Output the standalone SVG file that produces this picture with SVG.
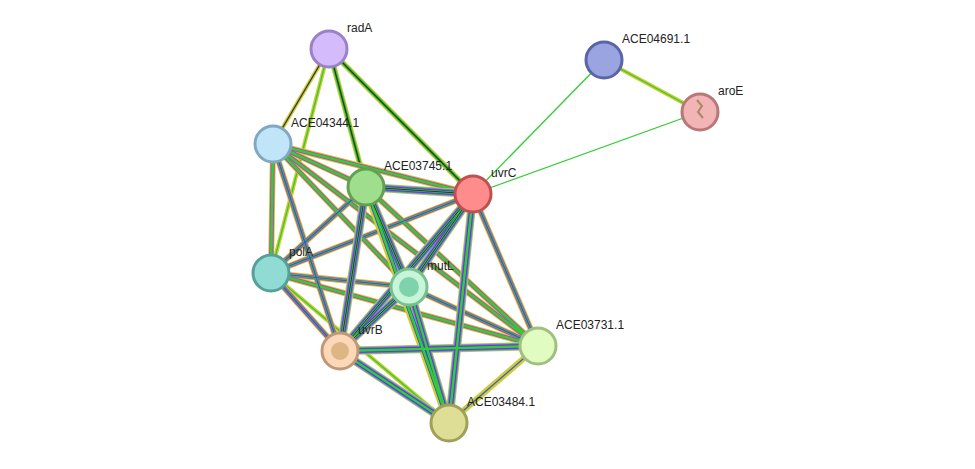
<svg xmlns="http://www.w3.org/2000/svg" width="975" height="469" viewBox="0 0 975 469">
<style>
text{font-family:"Liberation Sans",Arial,sans-serif;font-size:12px;fill:#222}
.n{stroke-width:3}
line{fill:none}
</style>
<defs>
<g id="dummy"/>
</defs>
<rect width="975" height="469" fill="#fff"/>
<g id="connectors">
<!-- simple green -->
<g stroke="#33cc33" stroke-width="1.3">
<line x1="604" y1="60" x2="473" y2="194"/>
<line x1="700" y1="112" x2="473" y2="194"/>
</g>
<!-- green+yellow -->
<g>
<line x1="604" y1="60" x2="700" y2="112" stroke="#cccc33" stroke-width="4"/>
<line x1="604" y1="60" x2="700" y2="112" stroke="#33cc33" stroke-width="1.3"/>
<line x1="329" y1="49" x2="271" y2="273" stroke="#cccc33" stroke-width="4"/>
<line x1="329" y1="49" x2="271" y2="273" stroke="#33cc33" stroke-width="1.3"/>
<line x1="271" y1="273" x2="449" y2="423" stroke="#cccc33" stroke-width="4"/>
<line x1="271" y1="273" x2="449" y2="423" stroke="#33cc33" stroke-width="1.3"/>
<line x1="366" y1="187" x2="449" y2="423" stroke="#cccc33" stroke-width="4"/>
<line x1="366" y1="187" x2="449" y2="423" stroke="#33cc33" stroke-width="1.3"/>
</g>
<!-- radA: black/green/yellow -->
<g>
<line x1="329" y1="49" x2="273" y2="144" stroke="#cccc33" stroke-width="4"/>
<line x1="329" y1="49" x2="273" y2="144" stroke="#333" stroke-width="1.3"/>
<line x1="329" y1="49" x2="366" y2="187" stroke="#cccc33" stroke-width="5.5"/>
<line x1="329" y1="49" x2="366" y2="187" stroke="#33cc33" stroke-width="3.5"/>
<line x1="329" y1="49" x2="366" y2="187" stroke="#333" stroke-width="1.3"/>
<line x1="329" y1="49" x2="473" y2="194" stroke="#cccc33" stroke-width="5.5"/>
<line x1="329" y1="49" x2="473" y2="194" stroke="#33cc33" stroke-width="3.5"/>
<line x1="329" y1="49" x2="473" y2="194" stroke="#333" stroke-width="1.3"/>
</g>
<!-- medium: yellow, magenta, green, blue -->
<g id="med">
<g stroke="#cccc33" stroke-width="6">
<line x1="273" y1="144" x2="366" y2="187"/><line x1="273" y1="144" x2="473" y2="194"/><line x1="273" y1="144" x2="271" y2="273"/><line x1="273" y1="144" x2="340" y2="351"/><line x1="273" y1="144" x2="409" y2="287"/><line x1="273" y1="144" x2="538" y2="346"/>
<line x1="366" y1="187" x2="271" y2="273"/><line x1="366" y1="187" x2="538" y2="346"/><line x1="473" y1="194" x2="271" y2="273"/><line x1="473" y1="194" x2="538" y2="346"/><line x1="271" y1="273" x2="409" y2="287"/><line x1="271" y1="273" x2="340" y2="351"/><line x1="271" y1="273" x2="538" y2="346"/><line x1="409" y1="287" x2="538" y2="346"/><line x1="538" y1="346" x2="449" y2="423"/>
</g>
<g stroke="#cc33cc" stroke-width="4.2">
<line x1="273" y1="144" x2="366" y2="187"/><line x1="273" y1="144" x2="473" y2="194"/><line x1="273" y1="144" x2="271" y2="273"/><line x1="273" y1="144" x2="340" y2="351"/><line x1="273" y1="144" x2="409" y2="287"/><line x1="273" y1="144" x2="538" y2="346"/>
<line x1="366" y1="187" x2="271" y2="273"/><line x1="366" y1="187" x2="538" y2="346"/><line x1="473" y1="194" x2="271" y2="273"/><line x1="473" y1="194" x2="538" y2="346"/><line x1="271" y1="273" x2="409" y2="287"/><line x1="271" y1="273" x2="340" y2="351"/><line x1="271" y1="273" x2="538" y2="346"/><line x1="409" y1="287" x2="538" y2="346"/>
</g>
<g stroke="#33cc33" stroke-width="2.6">
<line x1="273" y1="144" x2="366" y2="187"/><line x1="273" y1="144" x2="473" y2="194"/><line x1="273" y1="144" x2="271" y2="273"/><line x1="273" y1="144" x2="340" y2="351"/><line x1="273" y1="144" x2="409" y2="287"/><line x1="273" y1="144" x2="538" y2="346"/>
<line x1="366" y1="187" x2="271" y2="273"/><line x1="366" y1="187" x2="538" y2="346"/><line x1="473" y1="194" x2="271" y2="273"/><line x1="473" y1="194" x2="538" y2="346"/><line x1="271" y1="273" x2="409" y2="287"/><line x1="271" y1="273" x2="340" y2="351"/><line x1="271" y1="273" x2="538" y2="346"/><line x1="409" y1="287" x2="538" y2="346"/>
</g>
<g stroke="#3355dd" stroke-width="1.2">
<line x1="366" y1="187" x2="271" y2="273"/><line x1="473" y1="194" x2="271" y2="273"/><line x1="271" y1="273" x2="409" y2="287"/><line x1="271" y1="273" x2="340" y2="351"/><line x1="473" y1="194" x2="538" y2="346"/><line x1="409" y1="287" x2="538" y2="346"/><line x1="538" y1="346" x2="449" y2="423"/><line x1="273" y1="144" x2="340" y2="351"/>
</g>
</g>
<!-- full: yellow, cyan, magenta, blue, green, black -->
<g id="full">
<g stroke="#cccc33" stroke-width="8.5">
<line x1="366" y1="187" x2="473" y2="194"/><line x1="366" y1="187" x2="409" y2="287"/><line x1="366" y1="187" x2="340" y2="351"/><line x1="366" y1="187" x2="449" y2="423"/><line x1="473" y1="194" x2="409" y2="287"/><line x1="473" y1="194" x2="340" y2="351"/><line x1="473" y1="194" x2="449" y2="423"/><line x1="409" y1="287" x2="340" y2="351"/><line x1="409" y1="287" x2="449" y2="423"/><line x1="340" y1="351" x2="538" y2="346"/><line x1="340" y1="351" x2="449" y2="423"/>
</g>
<g stroke="#33bbcc" stroke-width="7">
<line x1="366" y1="187" x2="473" y2="194"/><line x1="366" y1="187" x2="409" y2="287"/><line x1="366" y1="187" x2="340" y2="351"/><line x1="473" y1="194" x2="409" y2="287"/><line x1="473" y1="194" x2="340" y2="351"/><line x1="473" y1="194" x2="449" y2="423"/><line x1="409" y1="287" x2="340" y2="351"/><line x1="409" y1="287" x2="449" y2="423"/><line x1="340" y1="351" x2="538" y2="346"/><line x1="340" y1="351" x2="449" y2="423"/>
</g>
<g stroke="#cc33cc" stroke-width="5.5">
<line x1="366" y1="187" x2="473" y2="194"/><line x1="366" y1="187" x2="409" y2="287"/><line x1="366" y1="187" x2="340" y2="351"/><line x1="473" y1="194" x2="409" y2="287"/><line x1="473" y1="194" x2="340" y2="351"/><line x1="473" y1="194" x2="449" y2="423"/><line x1="409" y1="287" x2="340" y2="351"/><line x1="409" y1="287" x2="449" y2="423"/><line x1="340" y1="351" x2="538" y2="346"/><line x1="340" y1="351" x2="449" y2="423"/>
</g>
<g stroke="#3344dd" stroke-width="4">
<line x1="366" y1="187" x2="473" y2="194"/><line x1="366" y1="187" x2="409" y2="287"/><line x1="366" y1="187" x2="340" y2="351"/><line x1="366" y1="187" x2="449" y2="423"/><line x1="473" y1="194" x2="409" y2="287"/><line x1="473" y1="194" x2="340" y2="351"/><line x1="473" y1="194" x2="449" y2="423"/><line x1="409" y1="287" x2="340" y2="351"/><line x1="409" y1="287" x2="449" y2="423"/><line x1="340" y1="351" x2="538" y2="346"/><line x1="340" y1="351" x2="449" y2="423"/>
</g>
<g stroke="#33cc33" stroke-width="2.5">
<line x1="366" y1="187" x2="473" y2="194"/><line x1="366" y1="187" x2="409" y2="287"/><line x1="366" y1="187" x2="340" y2="351"/><line x1="366" y1="187" x2="449" y2="423"/><line x1="473" y1="194" x2="409" y2="287"/><line x1="473" y1="194" x2="340" y2="351"/><line x1="473" y1="194" x2="449" y2="423"/><line x1="409" y1="287" x2="340" y2="351"/><line x1="409" y1="287" x2="449" y2="423"/><line x1="340" y1="351" x2="538" y2="346"/><line x1="340" y1="351" x2="449" y2="423"/>
</g>
<g stroke="#333" stroke-width="1">
<line x1="366" y1="187" x2="473" y2="194"/><line x1="366" y1="187" x2="409" y2="287"/><line x1="473" y1="194" x2="409" y2="287"/><line x1="473" y1="194" x2="340" y2="351"/><line x1="409" y1="287" x2="340" y2="351"/><line x1="366" y1="187" x2="340" y2="351"/>
</g>
</g>
</g>
<g id="radA"><circle class="n" cx="329" cy="49" r="18" fill="#d4bcfc" stroke="#9a82c8"/><text x="347" y="32">radA</text></g>
<g id="ACE04691.1"><circle class="n" cx="604" cy="60" r="18" fill="#9aa4e0" stroke="#5a64a8"/><text x="622" y="43">ACE04691.1</text></g>
<g id="aroE"><circle class="n" cx="700" cy="112" r="18" fill="#f2b4b4" stroke="#b87878"/><path d="M697 100 l5 6 l-4 6 l5 6" stroke="#a86" stroke-width="2" fill="none"/><text x="718" y="95">aroE</text></g>
<g id="ACE04344.1"><circle class="n" cx="273" cy="144" r="18" fill="#c0e4f8" stroke="#80a8c0"/><text x="291" y="127">ACE04344.1</text></g>
<g id="ACE03745.1"><circle class="n" cx="366" cy="187" r="18" fill="#9ede8c" stroke="#62a052"/><text x="384" y="170">ACE03745.1</text></g>
<g id="uvrC"><circle class="n" cx="473" cy="194" r="18" fill="#ff8c8c" stroke="#c05050"/><text x="491" y="177">uvrC</text></g>
<g id="polA"><circle class="n" cx="271" cy="273" r="18" fill="#90dcd4" stroke="#56a09a"/><text x="289" y="256">polA</text></g>
<g id="mutL"><circle class="n" cx="409" cy="287" r="18" fill="#c8f4d8" stroke="#78c090"/><circle cx="409" cy="287" r="10" fill="#5fc49a" opacity="0.7"/><text x="427" y="270">mutL</text></g>
<g id="uvrB"><circle class="n" cx="340" cy="351" r="18" fill="#fcd8b8" stroke="#c09878"/><circle cx="340" cy="351" r="9" fill="#c8a060" opacity="0.6"/><text x="358" y="334">uvrB</text></g>
<g id="ACE03731.1"><circle class="n" cx="538" cy="346" r="18" fill="#e0fcc0" stroke="#a0c080"/><text x="556" y="329">ACE03731.1</text></g>
<g id="ACE03484.1"><circle class="n" cx="449" cy="423" r="18" fill="#dede96" stroke="#a0a058"/><text x="467" y="406">ACE03484.1</text></g>
</svg>
